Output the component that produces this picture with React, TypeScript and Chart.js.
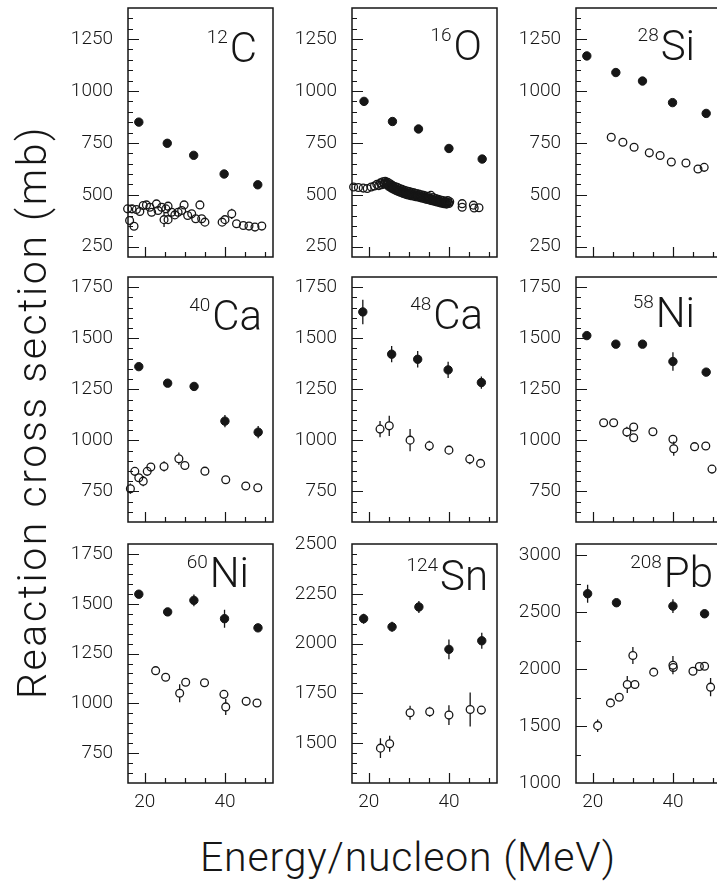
import React, { useEffect, useRef } from 'react';
import { Chart, registerables } from 'chart.js';
Chart.register(...registerables);

// ---------- axis values ----------
const xMin = 15.8;
const xMax = 52;
const xTickValues = [20, 25, 30, 35, 40, 45, 50];
const xLabelValues = [20, 40];

const panelMass = ['12', '16', '28', '40', '48', '58', '60', '124', '208'];
const panelElement = ['C', 'O', 'Si', 'Ca', 'Ca', 'Ni', 'Ni', 'Sn', 'Pb'];
const yMins = [200, 200, 200, 600, 600, 600, 600, 1300, 1000];
const yMaxs = [1400, 1400, 1400, 1800, 1800, 1800, 1800, 2500, 3100];
const yMinorSteps = [50, 50, 50, 50, 50, 50, 50, 50, 250];
const yLabelsRow1 = [250, 500, 750, 1000, 1250];
const yLabelsCaNi = [750, 1000, 1250, 1500, 1750];
const yLabelsSn = [1500, 1750, 2000, 2250, 2500];
const yLabelsPb = [1000, 1500, 2000, 2500, 3000];
const yLabelSets = [yLabelsRow1, yLabelsRow1, yLabelsRow1, yLabelsCaNi, yLabelsCaNi, yLabelsCaNi, yLabelsCaNi, yLabelsSn, yLabelsPb];

// ---------- data: [E (MeV/nucleon), sigma_R (mb), error (mb)] ----------
const c12Filled = [[18.5, 850, 0], [25.6, 748, 0], [32.2, 690, 0], [39.8, 600, 0], [48.2, 548, 0]];
const c12Open = [
  [15.7, 432, 0], [16.2, 376, 0], [16.8, 432, 0], [17.3, 348, 0], [17.9, 429, 0], [18.75, 419, 0],
  [19.6, 448, 0], [20.4, 451, 0], [21.25, 440, 0], [21.7, 416, 20], [22.9, 456, 0], [23.3, 424, 0],
  [24.2, 440, 0], [24.8, 380, 35], [25.25, 432, 0], [25.8, 445, 0], [25.8, 380, 0], [26.7, 416, 0],
  [27.5, 403, 0], [28.3, 416, 0], [29.2, 424, 0], [29.8, 451, 0], [30.7, 400, 0], [31.7, 408, 0],
  [32.7, 384, 0], [33.75, 451, 0], [34.2, 384, 0], [35.0, 368, 0], [39.3, 368, 0], [40.0, 380, 0],
  [41.7, 408, 25], [42.9, 360, 0], [44.6, 352, 0], [46.0, 349, 0], [47.5, 344, 0], [49.2, 349, 0],
];

const o16Filled = [[18.8, 950, 0], [25.9, 853, 0], [32.4, 817, 0], [40.0, 723, 0], [48.3, 672, 0]];
const o16Open = [
  [16.2, 537, 0], [17.4, 535, 0], [18.6, 532, 0], [19.6, 530, 0], [20.6, 537, 0], [21.4, 542, 0],
  [22.0, 550, 0], [22.5, 544, 0], [22.9, 557, 0], [23.2, 548, 0], [23.5, 563, 0], [23.8, 552, 0],
  [24.1, 565, 0], [24.4, 550, 0], [24.7, 560, 0], [25.0, 540, 0], [25.3, 553, 0], [25.6, 532, 0],
  [25.9, 545, 0], [26.2, 526, 0], [26.5, 540, 0], [26.8, 520, 0], [27.1, 536, 0], [27.4, 515, 0],
  [27.7, 530, 0], [28.0, 511, 0], [28.3, 526, 0], [28.6, 506, 0], [28.9, 522, 0], [29.2, 502, 0],
  [29.5, 518, 0], [29.8, 499, 0], [30.1, 515, 0], [30.4, 496, 0], [30.7, 512, 0], [31.0, 494, 0],
  [31.3, 509, 0], [31.6, 491, 0], [31.9, 506, 0], [32.2, 489, 0], [32.5, 503, 0], [32.8, 486, 0],
  [33.1, 500, 0], [33.4, 483, 0], [33.7, 497, 0], [34.0, 480, 0], [34.3, 494, 0], [34.6, 477, 0],
  [34.9, 491, 0], [35.2, 474, 0], [35.5, 497, 0], [35.8, 471, 0], [36.1, 486, 0], [36.4, 468, 0],
  [36.7, 482, 0], [37.0, 465, 0], [37.3, 478, 0], [37.6, 462, 0], [37.9, 475, 0], [38.2, 459, 0],
  [38.5, 472, 0], [38.8, 457, 0], [39.1, 469, 0], [39.4, 455, 0], [39.7, 472, 0], [40.0, 458, 0],
  [40.2, 466, 0], [43.3, 457, 0], [43.3, 440, 0], [46.1, 450, 0], [46.3, 436, 0], [47.5, 437, 0],
  [24.25, 557, 0], [24.55, 552, 0], [24.85, 550, 0], [25.15, 546, 0], [25.45, 541, 0], [25.75, 538, 0],
  [26.05, 535, 0], [26.35, 531, 0], [26.65, 529, 0], [26.95, 527, 0], [27.25, 524, 0], [27.55, 521, 0],
  [27.85, 519, 0], [28.15, 517, 0], [28.45, 515, 0], [28.75, 513, 0], [29.05, 510, 0], [29.35, 508, 0],
  [29.65, 507, 0], [29.95, 505, 0], [30.25, 504, 0], [30.55, 503, 0], [30.85, 502, 0], [31.15, 500, 0],
  [31.45, 499, 0], [31.75, 497, 0], [32.05, 496, 0], [32.35, 494, 0], [32.65, 493, 0], [32.95, 491, 0],
  [33.25, 490, 0], [33.55, 489, 0], [33.85, 487, 0], [34.15, 486, 0], [34.45, 485, 0], [34.75, 483, 0],
  [35.05, 482, 0], [35.35, 480, 0], [35.65, 478, 0], [35.95, 477, 0], [36.25, 475, 0], [36.55, 473, 0],
  [36.85, 471, 0], [37.15, 470, 0], [37.45, 468, 0], [37.75, 467, 0], [38.05, 465, 0], [38.35, 464, 0],
  [38.65, 463, 0], [38.95, 462, 0], [39.25, 461, 0], [39.55, 460, 0], [39.85, 462, 0],
];

const si28Filled = [[18.5, 1169, 0], [25.75, 1089, 0], [32.4, 1048, 0], [39.9, 944, 0], [48.3, 892, 0]];
const si28Open = [
  [24.6, 777, 0], [27.5, 753, 0], [30.3, 729, 0], [34.1, 702, 0], [36.8, 689, 0], [39.6, 658, 0],
  [43.25, 653, 0], [46.25, 624, 0], [47.8, 632, 0],
];

const ca40Filled = [[18.5, 1361, 0], [25.7, 1280, 0], [32.3, 1264, 0], [40.0, 1094, 30], [48.3, 1040, 30]];
const ca40Open = [
  [16.4, 763, 25], [17.5, 848, 0], [18.5, 817, 0], [19.6, 800, 25], [20.6, 848, 0], [21.5, 869, 0],
  [24.8, 872, 25], [28.5, 910, 30], [30.0, 877, 0], [35.0, 849, 0], [40.2, 807, 0], [45.2, 776, 0],
  [48.2, 768, 0],
];

const ca48Filled = [[18.5, 1629, 60], [25.7, 1422, 40], [32.2, 1397, 40], [39.8, 1345, 40], [48.1, 1283, 30]];
const ca48Open = [
  [22.8, 1055, 40], [25.1, 1071, 50], [30.3, 1001, 55], [35.1, 973, 25], [40.0, 952, 20],
  [45.2, 908, 25], [47.9, 887, 0],
];

const ni58Filled = [[18.5, 1513, 0], [25.75, 1471, 0], [32.4, 1471, 0], [40.0, 1386, 45], [48.3, 1334, 0]];
const ni58Open = [
  [22.7, 1086, 0], [25.2, 1086, 0], [28.5, 1041, 25], [30.2, 1065, 0], [30.2, 1013, 0], [35.0, 1042, 0],
  [40.0, 1005, 0], [40.2, 959, 35], [45.4, 969, 0], [48.2, 972, 0], [49.75, 859, 20],
];

const ni60Filled = [[18.5, 1548, 0], [25.7, 1459, 0], [32.25, 1517, 30], [39.9, 1425, 45], [48.25, 1379, 0]];
const ni60Open = [
  [22.7, 1164, 0], [25.2, 1131, 0], [28.7, 1051, 45], [30.2, 1106, 0], [34.9, 1103, 0],
  [39.75, 1045, 0], [40.2, 982, 40], [45.3, 1010, 0], [48.0, 1002, 0],
];

const sn124Filled = [[18.7, 2125, 25], [25.8, 2084, 25], [32.5, 2184, 30], [40.0, 1971, 50], [48.2, 2014, 40]];
const sn124Open = [
  [22.9, 1475, 50], [25.2, 1497, 40], [30.3, 1653, 35], [35.2, 1658, 25], [40.0, 1641, 50],
  [45.3, 1669, 85], [48.1, 1666, 0],
];

const pb208Filled = [[18.7, 2663, 80], [25.9, 2584, 0], [40.0, 2554, 60], [47.9, 2487, 35]];
const pb208Open = [
  [21.2, 1504, 55], [24.4, 1704, 25], [26.6, 1754, 25], [28.6, 1865, 75], [30.5, 1865, 0],
  [30.0, 2120, 75], [35.2, 1974, 0], [40.0, 2035, 80], [40.1, 2015, 0], [45.0, 1982, 0],
  [46.6, 2023, 0], [47.9, 2026, 0], [49.4, 1842, 80],
];

const panelFilled = [c12Filled, o16Filled, si28Filled, ca40Filled, ca48Filled, ni58Filled, ni60Filled, sn124Filled, pb208Filled];
const panelOpen = [c12Open, o16Open, si28Open, ca40Open, ca48Open, ni58Open, ni60Open, sn124Open, pb208Open];

// ---------- layout ----------
const COL_LEFT = [128, 352, 576];
const ROW_TOP = [8, 277, 544];
const ROW_H = [249, 245, 239];
const PANEL_W = 145;
const LM = 100;
const TM = 14;
const RM = 14;
const LABEL_RIGHT = [129, 130, 119, 134, 131, 119, 121, 136, 137];
const LABEL_BASE = [54, 52, 52, 53, 52, 50, 43, 46, 43];
const INK = '#161616';
const LABEL_FAMILY = 'Roboto, "Liberation Sans", sans-serif';
const TICK_FONT = { family: LABEL_FAMILY, size: 19, weight: 300 as any };
const OPEN_R = 3.9;

function toPoints(arr: number[][]) {
  return arr.map((p) => ({ x: p[0], y: p[1], err: p[2] }));
}

function Panel({ idx }: { idx: number }) {
  const ref = useRef<HTMLCanvasElement>(null);
  const col = idx % 3;
  const row = Math.floor(idx / 3);
  const isBottom = row === 2;
  const BM = isBottom ? 40 : 14;
  const w = LM + PANEL_W + RM;
  const h = TM + ROW_H[row] + BM;

  useEffect(() => {
    const yMin = yMins[idx];
    const yMax = yMaxs[idx];
    const labels = yLabelSets[idx];
    const minor = yMinorSteps[idx];

    const decor = {
      id: 'decor',
      beforeDatasetsDraw(chart: any) {
        const { ctx, scales } = chart;
        const xs = scales.x;
        const ys = scales.y;
        ctx.save();
        ctx.strokeStyle = INK;
        ctx.lineWidth = 1.3;
        ctx.beginPath();
        chart.data.datasets.forEach((ds: any, di: number) => {
          const gap = di === 1 ? OPEN_R : 0;
          ds.data.forEach((p: any) => {
            if (!p.err) return;
            const px = xs.getPixelForValue(p.x);
            const pc = ys.getPixelForValue(p.y);
            const top = ys.getPixelForValue(p.y + p.err);
            const bot = ys.getPixelForValue(p.y - p.err);
            if (pc - gap > top) {
              ctx.moveTo(px, top);
              ctx.lineTo(px, pc - gap);
            }
            if (pc + gap < bot) {
              ctx.moveTo(px, pc + gap);
              ctx.lineTo(px, bot);
            }
          });
        });
        ctx.stroke();
        ctx.restore();
      },
      afterDraw(chart: any) {
        const { ctx, chartArea: a, scales } = chart;
        const xs = scales.x;
        const ys = scales.y;
        ctx.save();
        ctx.strokeStyle = INK;
        ctx.lineWidth = 1.5;
        ctx.strokeRect(a.left, a.top, a.right - a.left, a.bottom - a.top);
        ctx.lineWidth = 1.2;
        ctx.beginPath();
        xs.ticks.forEach((t: any) => {
          const px = Math.round(xs.getPixelForValue(t.value)) + 0.5;
          const len = xLabelValues.includes(t.value) ? 10 : 5;
          ctx.moveTo(px, a.bottom);
          ctx.lineTo(px, a.bottom - len);
        });
        ys.ticks.forEach((t: any) => {
          if (t.value <= yMin || t.value >= yMax) return;
          const py = Math.round(ys.getPixelForValue(t.value)) + 0.5;
          const len = labels.includes(t.value) ? 11 : 5;
          ctx.moveTo(a.left, py);
          ctx.lineTo(a.left + len, py);
        });
        ctx.stroke();

        // nucleus label
        ctx.fillStyle = INK;
        ctx.textBaseline = 'alphabetic';
        ctx.textAlign = 'left';
        const sym = panelElement[idx];
        const mass = panelMass[idx];
        ctx.font = `300 42px ${LABEL_FAMILY}`;
        const symW = ctx.measureText(sym).width;
        const right = a.left + LABEL_RIGHT[idx];
        const base = a.top + LABEL_BASE[idx];
        ctx.fillText(sym, right - symW, base);
        ctx.font = `300 19px ${LABEL_FAMILY}`;
        const mW = ctx.measureText(mass).width;
        ctx.fillText(mass, right - symW - 2 - mW, base - 19);
        ctx.restore();
      },
    };

    const chart = new Chart(ref.current as HTMLCanvasElement, {
      type: 'scatter',
      data: {
        datasets: [
          {
            data: toPoints(panelFilled[idx]),
            pointRadius: 4.2,
            pointBackgroundColor: INK,
            pointBorderColor: INK,
            pointBorderWidth: 1,
            clip: false,
          } as any,
          {
            data: toPoints(panelOpen[idx]),
            pointRadius: OPEN_R,
            pointBackgroundColor: 'rgba(255,255,255,0)',
            pointBorderColor: INK,
            pointBorderWidth: 1.3,
            clip: false,
          } as any,
        ],
      },
      options: {
        responsive: false,
        animation: false,
        events: [],
        layout: { padding: { top: TM, right: RM, bottom: isBottom ? 0 : BM, left: 0 } },
        plugins: { legend: { display: false }, tooltip: { enabled: false } },
        scales: {
          x: {
            type: 'linear',
            min: xMin,
            max: xMax,
            grid: { display: false, drawTicks: true, tickLength: 8 },
            border: { display: false },
            afterBuildTicks: (axis: any) => {
              axis.ticks = xTickValues.map((v) => ({ value: v }));
            },
            afterFit: (axis: any) => {
              axis.height = isBottom ? BM : 0;
            },
            ticks: {
              display: isBottom,
              autoSkip: false,
              maxRotation: 0,
              padding: 0,
              color: INK,
              font: TICK_FONT,
              callback: (v: any) => (xLabelValues.includes(Number(v)) ? String(v) : ''),
            },
          },
          y: {
            type: 'linear',
            min: yMin,
            max: yMax,
            grid: { display: false, drawTicks: true, tickLength: 15 },
            border: { display: false },
            afterBuildTicks: (axis: any) => {
              const t: any[] = [];
              for (let v = yMin; v <= yMax; v += minor) t.push({ value: v });
              axis.ticks = t;
            },
            afterFit: (axis: any) => {
              axis.width = LM;
            },
            ticks: {
              autoSkip: false,
              padding: 0,
              color: INK,
              font: TICK_FONT,
              callback: (v: any) => (labels.includes(Number(v)) ? String(v) : ''),
            },
          },
        },
      } as any,
      plugins: [decor],
    });
    return () => chart.destroy();
  }, [idx]);

  return (
    <canvas
      ref={ref}
      width={w}
      height={h}
      style={{ position: 'absolute', left: COL_LEFT[col] - LM, top: ROW_TOP[row] - TM, width: w, height: h }}
    />
  );
}

export default function App() {
  const titleStyle: React.CSSProperties = {
    position: 'absolute',
    fontFamily: LABEL_FAMILY,
    fontWeight: 300,
    fontSize: 41,
    lineHeight: '44px',
    color: INK,
    whiteSpace: 'nowrap',
    textAlign: 'center',
  };
  return (
    <div style={{ position: 'absolute', left: 0, top: 0, width: 717, height: 882, overflow: 'hidden', background: '#fff' }}>
      {[0, 1, 2, 3, 4, 5, 6, 7, 8].map((i) => (
        <Panel key={i} idx={i} />
      ))}
      <div style={{ ...titleStyle, letterSpacing: '0.8px', left: 108, width: 600, top: 835 }}>Energy/nucleon (MeV)</div>
      <div
        style={{
          ...titleStyle,
          letterSpacing: '2.6px',
          left: 32 - 350,
          width: 700,
          top: 412 - 22,
          transform: 'rotate(-90deg)',
        }}
      >
        Reaction cross section (mb)
      </div>
    </div>
  );
}
